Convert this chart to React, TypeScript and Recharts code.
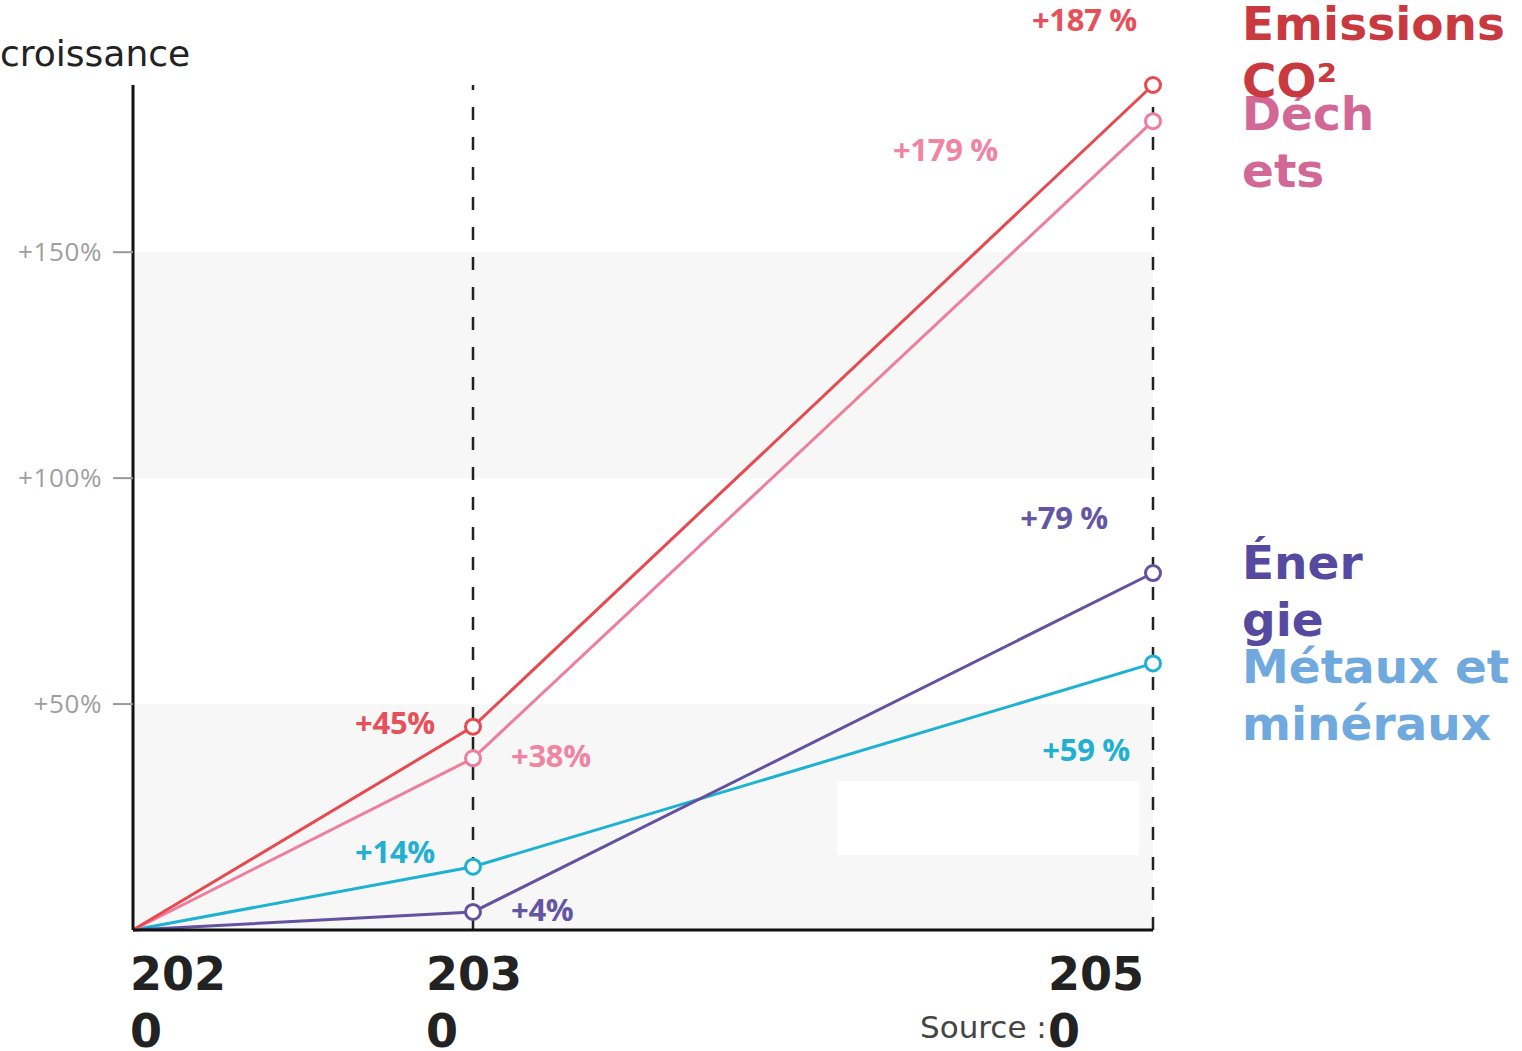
import React from 'react';
import { LineChart, Line, XAxis, YAxis, ReferenceArea, ReferenceLine, LabelList } from 'recharts';

const years = [2020, 2030, 2050];
const emissions = [0, 45, 187];
const dechets = [0, 38, 179];
const energie = [0, 4, 79];
const metaux = [0, 14, 59];
const yTicks = [50, 100, 150];

const emissionsLabels = ['', '+45%', '+187 %'];
const dechetsLabels = ['', '+38%', '+179 %'];
const energieLabels = ['', '+4%', '+79 %'];
const metauxLabels = ['', '+14%', '+59 %'];

const emissionsName = ['Emissions', 'CO²'];
const dechetsName = ['Déch', 'ets'];
const energieName = ['Éner', 'gie'];
const metauxName = ['Métaux et', 'minéraux'];

const data = years.map((year, i) => ({
  year,
  emissions: emissions[i],
  dechets: dechets[i],
  energie: energie[i],
  metaux: metaux[i],
}));

type Off = { anchor: 'start' | 'end'; dx: number; dy: number };
type Series = {
  key: string;
  color: string;
  textColor: string;
  nameColor: string;
  labels: string[];
  name: string[];
  offs: Off[];
  nameDy: number;
};

const series: Series[] = [
  {
    key: 'metaux', color: '#1db2d2', textColor: '#22b0d2', nameColor: '#70a9dd',
    labels: metauxLabels, name: metauxName,
    offs: [{ anchor: 'end', dx: -38, dy: -4 }, { anchor: 'end', dx: -23, dy: 98 }],
    nameDy: 20,
  },
  {
    key: 'energie', color: '#6452a0', textColor: '#6456a2', nameColor: '#5549a0',
    labels: energieLabels, name: energieName,
    offs: [{ anchor: 'start', dx: 38, dy: 9 }, { anchor: 'end', dx: -45, dy: -44 }],
    nameDy: 6,
  },
  {
    key: 'dechets', color: '#ef7d9d', textColor: '#f084a3', nameColor: '#d26896',
    labels: dechetsLabels, name: dechetsName,
    offs: [{ anchor: 'start', dx: 38, dy: 9 }, { anchor: 'end', dx: -155, dy: 40 }],
    nameDy: 9,
  },
  {
    key: 'emissions', color: '#e8494e', textColor: '#e6505a', nameColor: '#c93a40',
    labels: emissionsLabels, name: emissionsName,
    offs: [{ anchor: 'end', dx: -38, dy: 7 }, { anchor: 'end', dx: -16, dy: -54 }],
    nameDy: -45,
  },
];

const makeDot = (color: string) => (props: any) => {
  const { cx, cy, index } = props;
  if (index === 0 || cx == null || cy == null) return <g key={`d-${index}`} />;
  return <circle key={`d-${index}`} cx={cx} cy={cy} r={7.5} fill="#fff" stroke={color} strokeWidth={3} />;
};

const makeLabel = (s: Series) => (props: any) => {
  const { x, y, index } = props;
  if (index === 0 || x == null || y == null) return null;
  const o = s.offs[index - 1];
  return (
    <g key={`l-${s.key}-${index}`}>
      <text
        x={x + o.dx}
        y={y + o.dy}
        textAnchor={o.anchor}
        fill={s.textColor}
        fontFamily="Open Sans"
        fontWeight="bold"
        fontSize={31}
        letterSpacing={-0.3}
      >
        {s.labels[index]}
      </text>
      {index === years.length - 1 && (
        <text x={x + 89} y={y + s.nameDy} fill={s.nameColor} fontFamily="DejaVu Sans" fontWeight="bold" fontSize={47}>
          {s.name.map((line, i) => (
            <tspan key={i} x={x + 89} dy={i === 0 ? 0 : 57}>{line}</tspan>
          ))}
        </text>
      )}
    </g>
  );
};

const XTick = (props: any) => {
  const { x, y, payload, index } = props;
  const s = String(payload.value);
  const lines = [s.slice(0, 3), s.slice(3)];
  let left = x - 47;
  if (index === 0) left = x - 3;
  if (index === years.length - 1) left = x - 105;
  return (
    <text x={left} y={y + 58} fill="#222" fontFamily="DejaVu Sans" fontWeight="bold" fontSize={46}>
      {lines.map((l, i) => (
        <tspan key={i} x={left} dy={i === 0 ? 0 : 57}>{l}</tspan>
      ))}
    </text>
  );
};

export default function App() {
  return (
    <div style={{ position: 'absolute', left: 0, top: 0, width: 1522, height: 1051, background: '#fff' }}>
      <svg width={1522} height={1051} style={{ position: 'absolute', left: 0, top: 0 }}>
        <text x={0} y={66} fontFamily="DejaVu Sans" fontSize={36} fill="#222">croissance</text>
        <text x={920} y={1038} fontFamily="DejaVu Sans" fontSize={31} fill="#444">Source :</text>
      </svg>
      <div style={{ position: 'absolute', left: 0, top: 0 }}>
        <LineChart width={1522} height={1051} data={data} margin={{ top: 85, right: 369, bottom: 0, left: 1 }}>
          <ReferenceArea y1={0} y2={50} fill="#f7f7f7" fillOpacity={1} stroke="none" />
          <ReferenceArea y1={100} y2={150} fill="#f7f7f7" fillOpacity={1} stroke="none" />
          <ReferenceArea x1={2040.7} x2={2049.6} y1={16.6} y2={33} fill="#ffffff" fillOpacity={1} stroke="none" />
          <XAxis
            dataKey="year"
            type="number"
            domain={[2020, 2050]}
            ticks={years}
            axisLine={{ stroke: '#111', strokeWidth: 3 }}
            tickLine={false}
            tickSize={0}
            tick={<XTick />}
            height={121}
            interval={0}
          />
          <YAxis
            domain={[0, 187]}
            ticks={yTicks}
            tickFormatter={(v: number) => `+${v}%`}
            axisLine={{ stroke: '#111', strokeWidth: 3 }}
            tickLine={{ stroke: '#999', strokeWidth: 2 }}
            tickSize={20}
            tickMargin={11}
            tick={{ fill: '#9e9e9e', fontSize: 26, fontFamily: 'Open Sans', letterSpacing: 0.6 }}
            width={132}
          />
          <ReferenceLine x={2030} stroke="#222" strokeWidth={2.5} strokeDasharray="13 17" />
          <ReferenceLine x={2050} stroke="#222" strokeWidth={2.5} strokeDasharray="13 17" />
          {series.map((s) => (
            <Line
              key={s.key}
              type="linear"
              dataKey={s.key}
              stroke={s.color}
              strokeWidth={3}
              dot={makeDot(s.color)}
              activeDot={false}
              isAnimationActive={false}
            >
              <LabelList dataKey={s.key} content={makeLabel(s)} />
            </Line>
          ))}
        </LineChart>
      </div>
    </div>
  );
}
